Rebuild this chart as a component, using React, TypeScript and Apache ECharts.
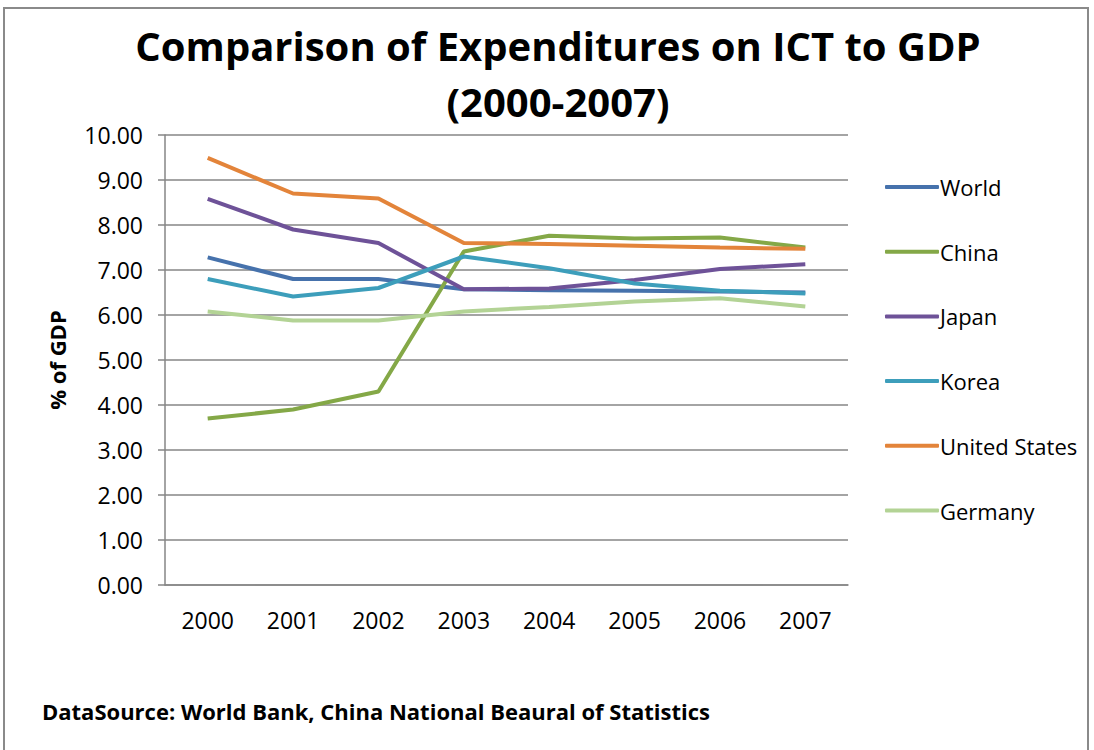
import React, { useEffect, useRef } from "react";
import * as echarts from "echarts";

const years = ["2000", "2001", "2002", "2003", "2004", "2005", "2006", "2007"];
const world = [7.28, 6.8, 6.8, 6.57, 6.55, 6.54, 6.52, 6.5];
const china = [3.7, 3.9, 4.3, 7.41, 7.76, 7.7, 7.72, 7.5];
const japan = [8.58, 7.9, 7.6, 6.57, 6.59, 6.78, 7.02, 7.13];
const korea = [6.8, 6.41, 6.6, 7.3, 7.04, 6.7, 6.54, 6.48];
const unitedStates = [9.49, 8.7, 8.59, 7.6, 7.58, 7.54, 7.5, 7.47];
const germany = [6.08, 5.88, 5.88, 6.08, 6.18, 6.3, 6.37, 6.19];

const seriesNames = ["World", "China", "Japan", "Korea", "United States", "Germany"];
const seriesData = [world, china, japan, korea, unitedStates, germany];
const seriesColors = ["#4672AC", "#84A847", "#6E5298", "#3D9EBB", "#E3843A", "#B3D395"];

const FONT = "'Open Sans', 'DejaVu Sans', sans-serif";

export default function App() {
  const ref = useRef<HTMLDivElement>(null);
  useEffect(() => {
    if (!ref.current) return;
    const chart = echarts.init(ref.current, undefined, { renderer: "svg" });
    chart.setOption({
      animation: false,
      backgroundColor: "#ffffff",
      title: {
        text: "Comparison of Expenditures on ICT to GDP\n(2000-2007)",
        left: 553,
        textAlign: "center",
        top: 12,
        textStyle: {
          fontFamily: FONT,
          fontSize: 40,
          fontWeight: "bold",
          color: "#000",
          lineHeight: 56,
        },
      },
      graphic: [
        {
          type: "rect",
          shape: { x: 4, y: 8, width: 1084, height: 760 },
          style: { fill: "none", stroke: "#8a8a8a", lineWidth: 2 },
          silent: true,
        },
        {
          type: "text",
          left: 42,
          top: 700,
          style: {
            text: "DataSource: World Bank, China National Beaural of Statistics",
            font: `bold 22px ${FONT}`,
            fill: "#000",
          },
        },
      ],
      legend: {
        orient: "vertical",
        left: 880,
        top: 171,
        itemWidth: 54,
        itemHeight: 4,
        itemGap: 42.7,
        icon: "roundRect",
        data: seriesNames,
        textStyle: { fontFamily: FONT, fontSize: 22, color: "#000", padding: [0, 0, 0, -4] },
      },
      grid: { left: 165, top: 135, width: 683, height: 450, containLabel: false },
      xAxis: {
        type: "category",
        data: years,
        boundaryGap: true,
        axisLine: { lineStyle: { color: "#868686", width: 1.5 } },
        axisTick: { show: false },
        axisLabel: { fontFamily: FONT, fontSize: 23, color: "#000", margin: 23 },
      },
      yAxis: {
        type: "value",
        min: 0,
        max: 10,
        interval: 1,
        name: "% of GDP",
        nameLocation: "middle",
        nameRotate: 90,
        nameGap: 97,
        nameTextStyle: { fontFamily: FONT, fontSize: 22, fontWeight: "bold", color: "#000" },
        axisLine: { show: true, lineStyle: { color: "#868686", width: 1.5 } },
        axisTick: { show: true, length: 7, lineStyle: { color: "#868686", width: 1.5 } },
        splitLine: { lineStyle: { color: "#868686", width: 1.5 } },
        axisLabel: {
          fontFamily: FONT,
          fontSize: 23,
          color: "#000",
          margin: 22,
          formatter: (v: number) => v.toFixed(2),
        },
      },
      series: seriesNames.map((name, i) => ({
        name,
        type: "line",
        data: seriesData[i],
        symbol: "none",
        lineStyle: { width: 4, color: seriesColors[i] },
        itemStyle: { color: seriesColors[i] },
      })),
    });
    return () => chart.dispose();
  }, []);
  return (
    <div
      ref={ref}
      style={{ position: "fixed", left: 0, top: 0, width: 1094, height: 750 }}
    />
  );
}
